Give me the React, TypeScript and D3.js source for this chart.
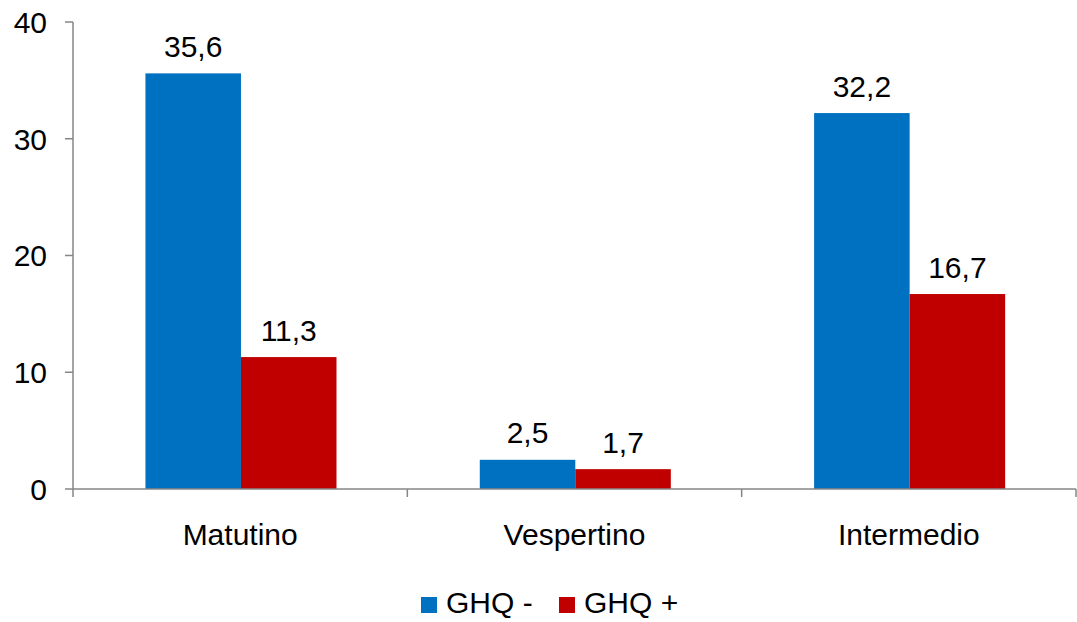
import React from "react";
import * as d3 from "d3";

const categories = ["Matutino", "Vespertino", "Intermedio"];
const seriesNames = ["GHQ -", "GHQ +"];
const ghqNeg = [35.6, 2.5, 32.2];
const ghqPos = [11.3, 1.7, 16.7];
const yTicks = [0, 10, 20, 30, 40];
const colors = ["#0070C0", "#C00000"];

const W = 1077;
const H = 622;
const FONT = "'Liberation Sans', Arial, sans-serif";

export default function App() {
  const left = 73, right = 1076, top = 22, bottom = 489;
  const x = d3.scaleBand<string>().domain(categories).range([left, right]).paddingInner(0).paddingOuter(0);
  const inner = d3.scaleBand<string>().domain(seriesNames).range([0.8, x.bandwidth() + 0.8]).paddingInner(0).paddingOuter(0.75);
  const y = d3.scaleLinear().domain([0, 40]).range([bottom, top]);
  const series = [ghqNeg, ghqPos];
  const fmt = (v: number) => v.toFixed(1).replace(".", ",");
  const fs = 30;

  const boundaries = [...categories.map((c) => x(c)!), right];

  return (
    <svg width={W} height={H} style={{ position: "absolute", left: 0, top: 0, background: "#fff" }}>
      {series.map((vals, si) =>
        categories.map((c, ci) => {
          const bx = x(c)! + inner(seriesNames[si])!;
          const by = y(vals[ci]);
          return (
            <g key={`${si}-${ci}`}>
              <rect x={bx} y={by} width={inner.bandwidth()} height={bottom - by} fill={colors[si]} />
              <text x={bx + inner.bandwidth() / 2} y={by - 16.5} textAnchor="middle" fontFamily={FONT} fontSize={fs} fill="#000">
                {fmt(vals[ci])}
              </text>
            </g>
          );
        })
      )}
      {/* y axis */}
      <line x1={left} x2={left} y1={top} y2={bottom} stroke="#868686" strokeWidth={1.5} />
      {yTicks.map((t) => (
        <g key={t}>
          <line x1={left - 8} x2={left} y1={y(t)} y2={y(t)} stroke="#868686" strokeWidth={1.5} />
          <text x={left - 26} y={y(t)} dy="0.36em" textAnchor="end" fontFamily={FONT} fontSize={fs} fill="#000">
            {t}
          </text>
        </g>
      ))}
      {/* x axis */}
      <line x1={left} x2={right} y1={bottom} y2={bottom} stroke="#868686" strokeWidth={1.5} />
      {boundaries.map((b, i) => (
        <line key={i} x1={b} x2={b} y1={bottom} y2={bottom + 8} stroke="#868686" strokeWidth={1.5} />
      ))}
      {categories.map((c) => (
        <text key={c} x={x(c)! + x.bandwidth() / 2} y={545} textAnchor="middle" fontFamily={FONT} fontSize={fs} fill="#000">
          {c}
        </text>
      ))}
      {/* legend */}
      {seriesNames.map((s, i) => {
        const lx = [421, 559][i];
        return (
          <g key={s}>
            <rect x={lx} y={597} width={16} height={16} fill={colors[i]} />
            <text x={lx + 25} y={613} fontFamily={FONT} fontSize={fs} fill="#000">
              {s}
            </text>
          </g>
        );
      })}
    </svg>
  );
}
